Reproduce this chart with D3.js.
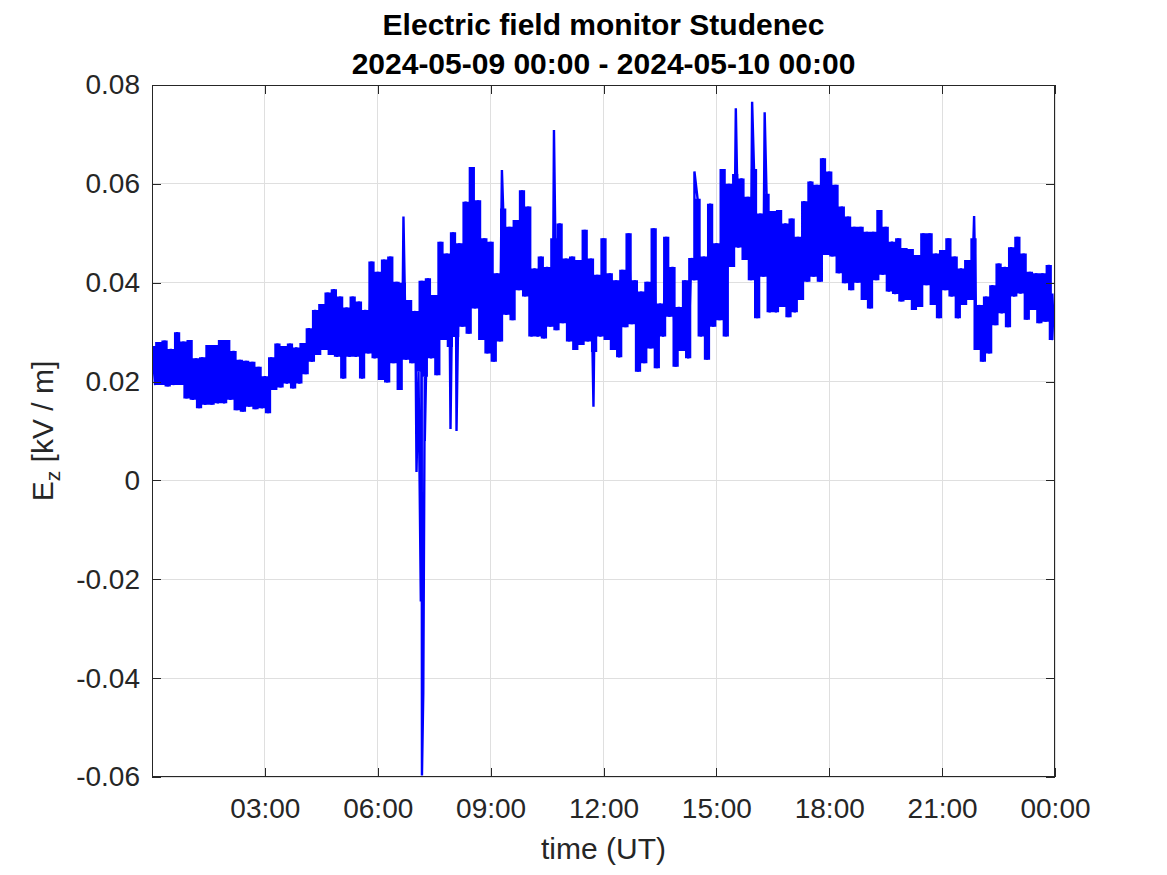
<!DOCTYPE html>
<html><head><meta charset="utf-8">
<script src="https://cdn.jsdelivr.net/npm/d3@7"></script>
<style>body{margin:0;background:#fff;} svg{display:block;font-family:"Liberation Sans",Arial,sans-serif;}</style>
</head><body><svg id="chart" width="1167" height="875"></svg>
<script>
const titleLines = ["Electric field monitor Studenec", "2024-05-09 00:00 - 2024-05-10 00:00"];
const xLabel = "time (UT)";
const startTime = "2024-05-09T00:00:00Z";
const endTime = "2024-05-10T00:00:00Z";
const stepMinutes = 10;
// upper envelope samples at k*10 min
const hiValues = [0.0272,0.0280,0.0283,0.0266,0.0300,0.0281,0.0284,0.0247,0.0249,0.0274,
0.0274,0.0284,0.0284,0.0262,0.0244,0.0242,0.0240,0.0230,0.0211,0.0249,
0.0277,0.0272,0.0277,0.0269,0.0278,0.0308,0.0345,0.0357,0.0380,0.0387,
0.0372,0.0350,0.0372,0.0362,0.0345,0.0443,0.0422,0.0447,0.0453,0.0402,
0.0400,0.0365,0.0343,0.0404,0.0409,0.0375,0.0483,0.0459,0.0502,0.0480,
0.0564,0.0634,0.0567,0.0490,0.0483,0.0419,0.0550,0.0513,0.0527,0.0587,
0.0554,0.0429,0.0453,0.0432,0.0490,0.0520,0.0449,0.0453,0.0446,0.0507,
0.0449,0.0416,0.0490,0.0419,0.0405,0.0426,0.0500,0.0405,0.0382,0.0402,
0.0510,0.0358,0.0493,0.0432,0.0351,0.0405,0.0450,0.0570,0.0453,0.0560,
0.0480,0.0630,0.0600,0.0620,0.0611,0.0574,0.0630,0.0540,0.0580,0.0545,
0.0547,0.0520,0.0530,0.0493,0.0565,0.0605,0.0598,0.0652,0.0625,0.0598,
0.0554,0.0534,0.0513,0.0513,0.0503,0.0503,0.0547,0.0513,0.0483,0.0490,
0.0470,0.0468,0.0456,0.0500,0.0500,0.0459,0.0466,0.0490,0.0453,0.0429,
0.0446,0.0490,0.0355,0.0372,0.0395,0.0439,0.0432,0.0472,0.0493,0.0459,
0.0422,0.0419,0.0419,0.0436,0.0378];
// lower envelope samples at k*10+5 min
const loValues = [0.0193,0.0193,0.0190,0.0193,0.0193,0.0166,0.0163,0.0146,0.0153,0.0153,
0.0156,0.0156,0.0163,0.0142,0.0139,0.0149,0.0144,0.0146,0.0136,0.0183,
0.0188,0.0196,0.0186,0.0196,0.0215,0.0240,0.0254,0.0264,0.0254,0.0250,
0.0206,0.0250,0.0250,0.0206,0.0257,0.0247,0.0203,0.0198,0.0237,0.0183,
0.0244,0.0237,0.0220,0.0210,0.0247,0.0213,0.0284,0.0270,0.0290,0.0311,
0.0297,0.0348,0.0284,0.0257,0.0240,0.0281,0.0335,0.0324,0.0385,0.0372,
0.0291,0.0291,0.0287,0.0311,0.0304,0.0318,0.0281,0.0264,0.0274,0.0281,
0.0260,0.0291,0.0284,0.0264,0.0249,0.0310,0.0316,0.0220,0.0237,0.0267,
0.0227,0.0291,0.0331,0.0230,0.0262,0.0247,0.0405,0.0291,0.0244,0.0311,
0.0324,0.0291,0.0432,0.0471,0.0446,0.0405,0.0328,0.0412,0.0340,0.0340,
0.0351,0.0330,0.0340,0.0365,0.0402,0.0412,0.0402,0.0456,0.0453,0.0419,
0.0399,0.0385,0.0400,0.0365,0.0348,0.0405,0.0416,0.0382,0.0377,0.0362,
0.0365,0.0345,0.0351,0.0395,0.0355,0.0328,0.0385,0.0372,0.0328,0.0355,
0.0365,0.0264,0.0240,0.0257,0.0314,0.0338,0.0310,0.0372,0.0378,0.0325,
0.0345,0.0318,0.0321,0.0284];
// short single-sample spikes (minutes after start)
const spikeMinutes = [401, 421.8, 428.7, 430.5, 432.6, 435.0, 476, 485.6, 558, 641, 704, 865, 931, 957, 977, 1311];
const spikeValues = [0.0534, 0.0017, -0.0245, -0.0597, -0.0430, 0.0080, 0.0104, 0.0100, 0.0628, 0.0709, 0.0149, 0.0625, 0.0753, 0.0766, 0.0745, 0.0535];
const xTickHours = [3, 6, 9, 12, 15, 18, 21, 24];
const yTickValues = [-0.06, -0.04, -0.02, 0, 0.02, 0.04, 0.06, 0.08];
const yTickLabels = ["-0.06", "-0.04", "-0.02", "0", "0.02", "0.04", "0.06", "0.08"];

const svg = d3.select("#chart");
const L = 152, R = 1055, T = 85, B = 777;
const t0 = new Date(startTime), t1 = new Date(endTime);
const x = d3.scaleUtc().domain([t0, t1]).range([L, R]);
const y = d3.scaleLinear().domain([-0.06, 0.08]).range([B, T]);
const minToDate = m => new Date(t0.getTime() + m * 60000);

const hiPts = hiValues.map((v, k) => ({t: k * stepMinutes, v}));
const loPts = loValues.map((v, k) => ({t: k * stepMinutes + stepMinutes / 2, v}));
const spikePts = spikeMinutes.map((m, i) => ({t: m, v: spikeValues[i]}));
const pts = hiPts.concat(loPts, spikePts).sort((a, b) => a.t - b.t);
const band = hiPts.concat(loPts.slice().reverse());

const xTicks = xTickHours.map(h => minToDate(h * 60));
const gridC = "#dfdfdf", axC = "#262626";

// grid
const grid = svg.append("g");
grid.selectAll("line.gx").data(xTicks).join("line")
  .attr("x1", d => x(d)).attr("x2", d => x(d)).attr("y1", T).attr("y2", B)
  .attr("stroke", gridC).attr("stroke-width", 1).attr("shape-rendering", "crispEdges");
grid.selectAll("line.gy").data(yTickValues).join("line")
  .attr("x1", L).attr("x2", R).attr("y1", d => y(d)).attr("y2", d => y(d))
  .attr("stroke", gridC).attr("stroke-width", 1).attr("shape-rendering", "crispEdges");

// data
svg.append("clipPath").attr("id", "clip").append("rect")
  .attr("x", L).attr("y", T).attr("width", R - L).attr("height", B - T);
const bandGen = d3.line().x(d => x(minToDate(d.t))).y(d => y(d.v)).curve(d3.curveStep);
svg.append("path")
  .attr("clip-path", "url(#clip)")
  .attr("fill", "#0000ff").attr("stroke", "none")
  .attr("d", bandGen(band) + "Z");
svg.append("path").datum(pts)
  .attr("clip-path", "url(#clip)")
  .attr("fill", "none").attr("stroke", "#0000ff").attr("stroke-width", 2.4)
  .attr("stroke-linejoin", "bevel")
  .attr("d", d3.line().x(d => x(minToDate(d.t))).y(d => y(d.v)));

// axes
const fmt = d3.utcFormat("%H:%M");
const styleAxis = g => {
  g.select(".domain").remove();
  g.selectAll(".tick line").attr("stroke", axC).attr("shape-rendering", "crispEdges");
  g.selectAll(".tick text").attr("fill", axC).style("font-size", "28px").style("font-family", "'Liberation Sans', Arial, sans-serif");
};
svg.append("g").attr("transform", `translate(0,${B})`)
  .call(d3.axisBottom(x).tickValues(xTicks).tickFormat(fmt).tickSize(-9).tickPadding(21))
  .call(styleAxis);
svg.append("g").attr("transform", `translate(0,${T})`)
  .call(d3.axisTop(x).tickValues(xTicks).tickFormat("").tickSize(-9))
  .call(styleAxis);
svg.append("g").attr("transform", `translate(${L},0)`)
  .call(d3.axisLeft(y).tickValues(yTickValues).tickFormat((d, i) => yTickLabels[i]).tickSize(-9).tickPadding(12))
  .call(styleAxis);
svg.append("g").attr("transform", `translate(${R},0)`)
  .call(d3.axisRight(y).tickValues(yTickValues).tickFormat("").tickSize(-9))
  .call(styleAxis);

svg.append("rect").attr("x", L + 0.5).attr("y", T + 0.5).attr("width", R - L - 1).attr("height", B - T - 1)
  .attr("fill", "none").attr("stroke", axC).attr("stroke-width", 1);

// titles
svg.append("text").attr("x", (L + R) / 2).attr("y", 35).attr("text-anchor", "middle")
  .style("font-size", "30px").style("font-weight", "bold").attr("fill", "#000").text(titleLines[0]);
svg.append("text").attr("x", (L + R) / 2).attr("y", 74).attr("text-anchor", "middle")
  .style("font-size", "30px").style("font-weight", "bold").attr("fill", "#000").text(titleLines[1]);

svg.append("text").attr("x", (L + R) / 2).attr("y", 859).attr("text-anchor", "middle")
  .style("font-size", "30px").attr("fill", axC).text(xLabel);

const yl = svg.append("text").attr("transform", "translate(53,431) rotate(-90)")
  .attr("text-anchor", "middle").style("font-size", "30px").attr("fill", axC);
yl.append("tspan").text("E");
yl.append("tspan").attr("dy", 7).style("font-size", "21px").text("z");
yl.append("tspan").attr("dy", -7).text(" [kV / m]");
</script></body></html>
